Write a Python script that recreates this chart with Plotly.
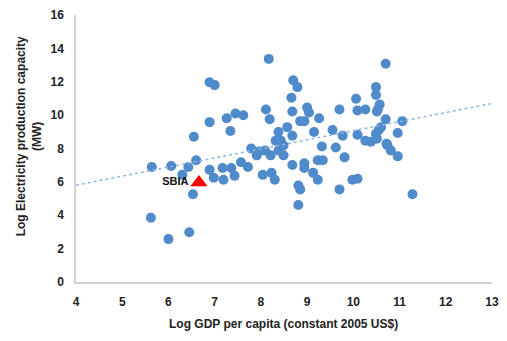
import plotly.graph_objects as go

# Scatter data: Log GDP per capita (x) vs Log electricity production capacity (y)
gdp_log = [6.89, 7.00, 6.89, 7.26, 7.45, 7.62, 7.34, 6.55, 5.64, 6.06, 6.43, 6.60, 6.30, 6.89,
           6.98, 7.17, 7.36, 7.19, 7.43, 7.57, 7.72, 7.79, 6.53, 5.62, 6.00, 6.45, 8.17, 10.70,
           8.70, 8.79, 8.66, 10.49, 10.49, 10.06, 10.57, 8.11, 8.19, 8.68, 9.00, 9.04, 9.70,
           10.09, 10.26, 10.51, 10.70, 11.06, 8.85, 8.94, 9.26, 8.57, 8.38, 8.68, 9.15, 9.55,
           9.77, 10.09, 10.55, 10.60, 10.96, 8.32, 8.43, 8.49, 7.96, 8.09, 8.21, 8.49, 9.32,
           9.62, 10.26, 10.38, 10.51, 10.74, 10.81, 10.96, 9.81, 8.68, 8.94, 8.94, 9.23, 9.34,
           8.04, 8.23, 8.30, 9.13, 9.23, 9.98, 10.09, 9.70, 8.81, 8.85, 11.28, 8.81, 7.91,
           10.72, 10.49, 8.38, 10.53]
cap_log = [11.97, 11.80, 9.58, 9.81, 10.10, 9.99, 9.05, 8.70, 6.89, 6.95, 6.89, 7.30, 6.42, 6.72,
           6.25, 6.83, 6.83, 6.13, 6.36, 7.18, 6.89, 8.00, 5.26, 3.85, 2.57, 2.98, 13.37, 13.08,
           12.09, 11.68, 11.04, 11.68, 11.21, 10.98, 10.63, 10.34, 9.75, 10.22, 10.45, 10.16, 10.34,
           10.28, 10.34, 10.22, 9.75, 9.64, 9.64, 9.64, 9.81, 9.28, 8.99, 8.76, 8.99, 9.11,
           8.76, 8.82, 9.11, 9.28, 8.93, 8.47, 8.47, 8.18, 7.82, 7.88, 7.59, 7.59, 8.12,
           8.06, 8.47, 8.41, 8.58, 8.18, 7.88, 7.53, 7.47, 7.01, 7.12, 6.83, 7.30, 7.30,
           6.42, 6.54, 6.13, 6.54, 6.13, 6.13, 6.19, 5.55, 5.78, 5.55, 5.26, 4.61, 7.59,
           8.29, 8.88, 7.88, 10.35]

# Highlighted country
hl_label = ["SBIA"]
hl_x = [6.66]
hl_y = [5.96]

# Linear trend line
trend_x = [4, 13]
trend_y = [5.8, 10.7]

x_ticks = [4, 5, 6, 7, 8, 9, 10, 11, 12, 13]
y_ticks = [0, 2, 4, 6, 8, 10, 12, 14, 16]

FONT = "Liberation Sans, Arial, sans-serif"

fig = go.Figure()
fig.add_trace(go.Scatter(
    x=gdp_log, y=cap_log, mode="markers",
    marker=dict(size=10, color="#4F8ACB", line=dict(width=0)),
    showlegend=False, hoverinfo="skip"))
fig.add_trace(go.Scatter(
    x=trend_x, y=trend_y, mode="lines",
    line=dict(color="#8DB6E2", width=1.5, dash="dot"),
    showlegend=False, hoverinfo="skip"))
fig.add_trace(go.Scatter(
    x=hl_x, y=hl_y, mode="markers+text", text=["<b>" + t + "</b>" for t in hl_label],
    textposition="middle left",
    textfont=dict(family=FONT, size=11, color="#111111"),
    marker=dict(symbol="triangle-up", size=15, color="#FF0000", line=dict(width=0)),
    showlegend=False, hoverinfo="skip"))

axis_common = dict(
    showgrid=False, zeroline=False, showline=True, linecolor="#D0D0D0", linewidth=1.5,
    ticks="outside", ticklen=8, tickcolor="rgba(0,0,0,0)",
    tickfont=dict(family=FONT, size=12, color="#222222"), fixedrange=True)

fig.update_layout(
    width=507, height=341,
    margin=dict(l=76, r=8, t=8, b=59),
    paper_bgcolor="white", plot_bgcolor="white",
    xaxis=dict(range=[4, 13], tickvals=x_ticks, ticktext=["<b>%d</b>" % v for v in x_ticks], **axis_common),
    yaxis=dict(range=[0, 16], tickvals=y_ticks, ticktext=["<b>%d</b>" % v for v in y_ticks], **axis_common),
    annotations=[
        dict(text="<b>Log Electricity production capacity</b><br><b>(MW)</b>", textangle=-90,
             xref="paper", yref="paper", x=-0.111, y=0.545, xanchor="center", yanchor="middle",
             showarrow=False, font=dict(family=FONT, size=12, color="#222222")),
        dict(text="<b>Log GDP per capita (constant 2005 US$)</b>",
             xref="paper", yref="paper", x=0.499, y=-0.157, xanchor="center", yanchor="middle",
             showarrow=False, font=dict(family=FONT, size=12, color="#222222")),
    ],
)

fig.write_html("out.html")
